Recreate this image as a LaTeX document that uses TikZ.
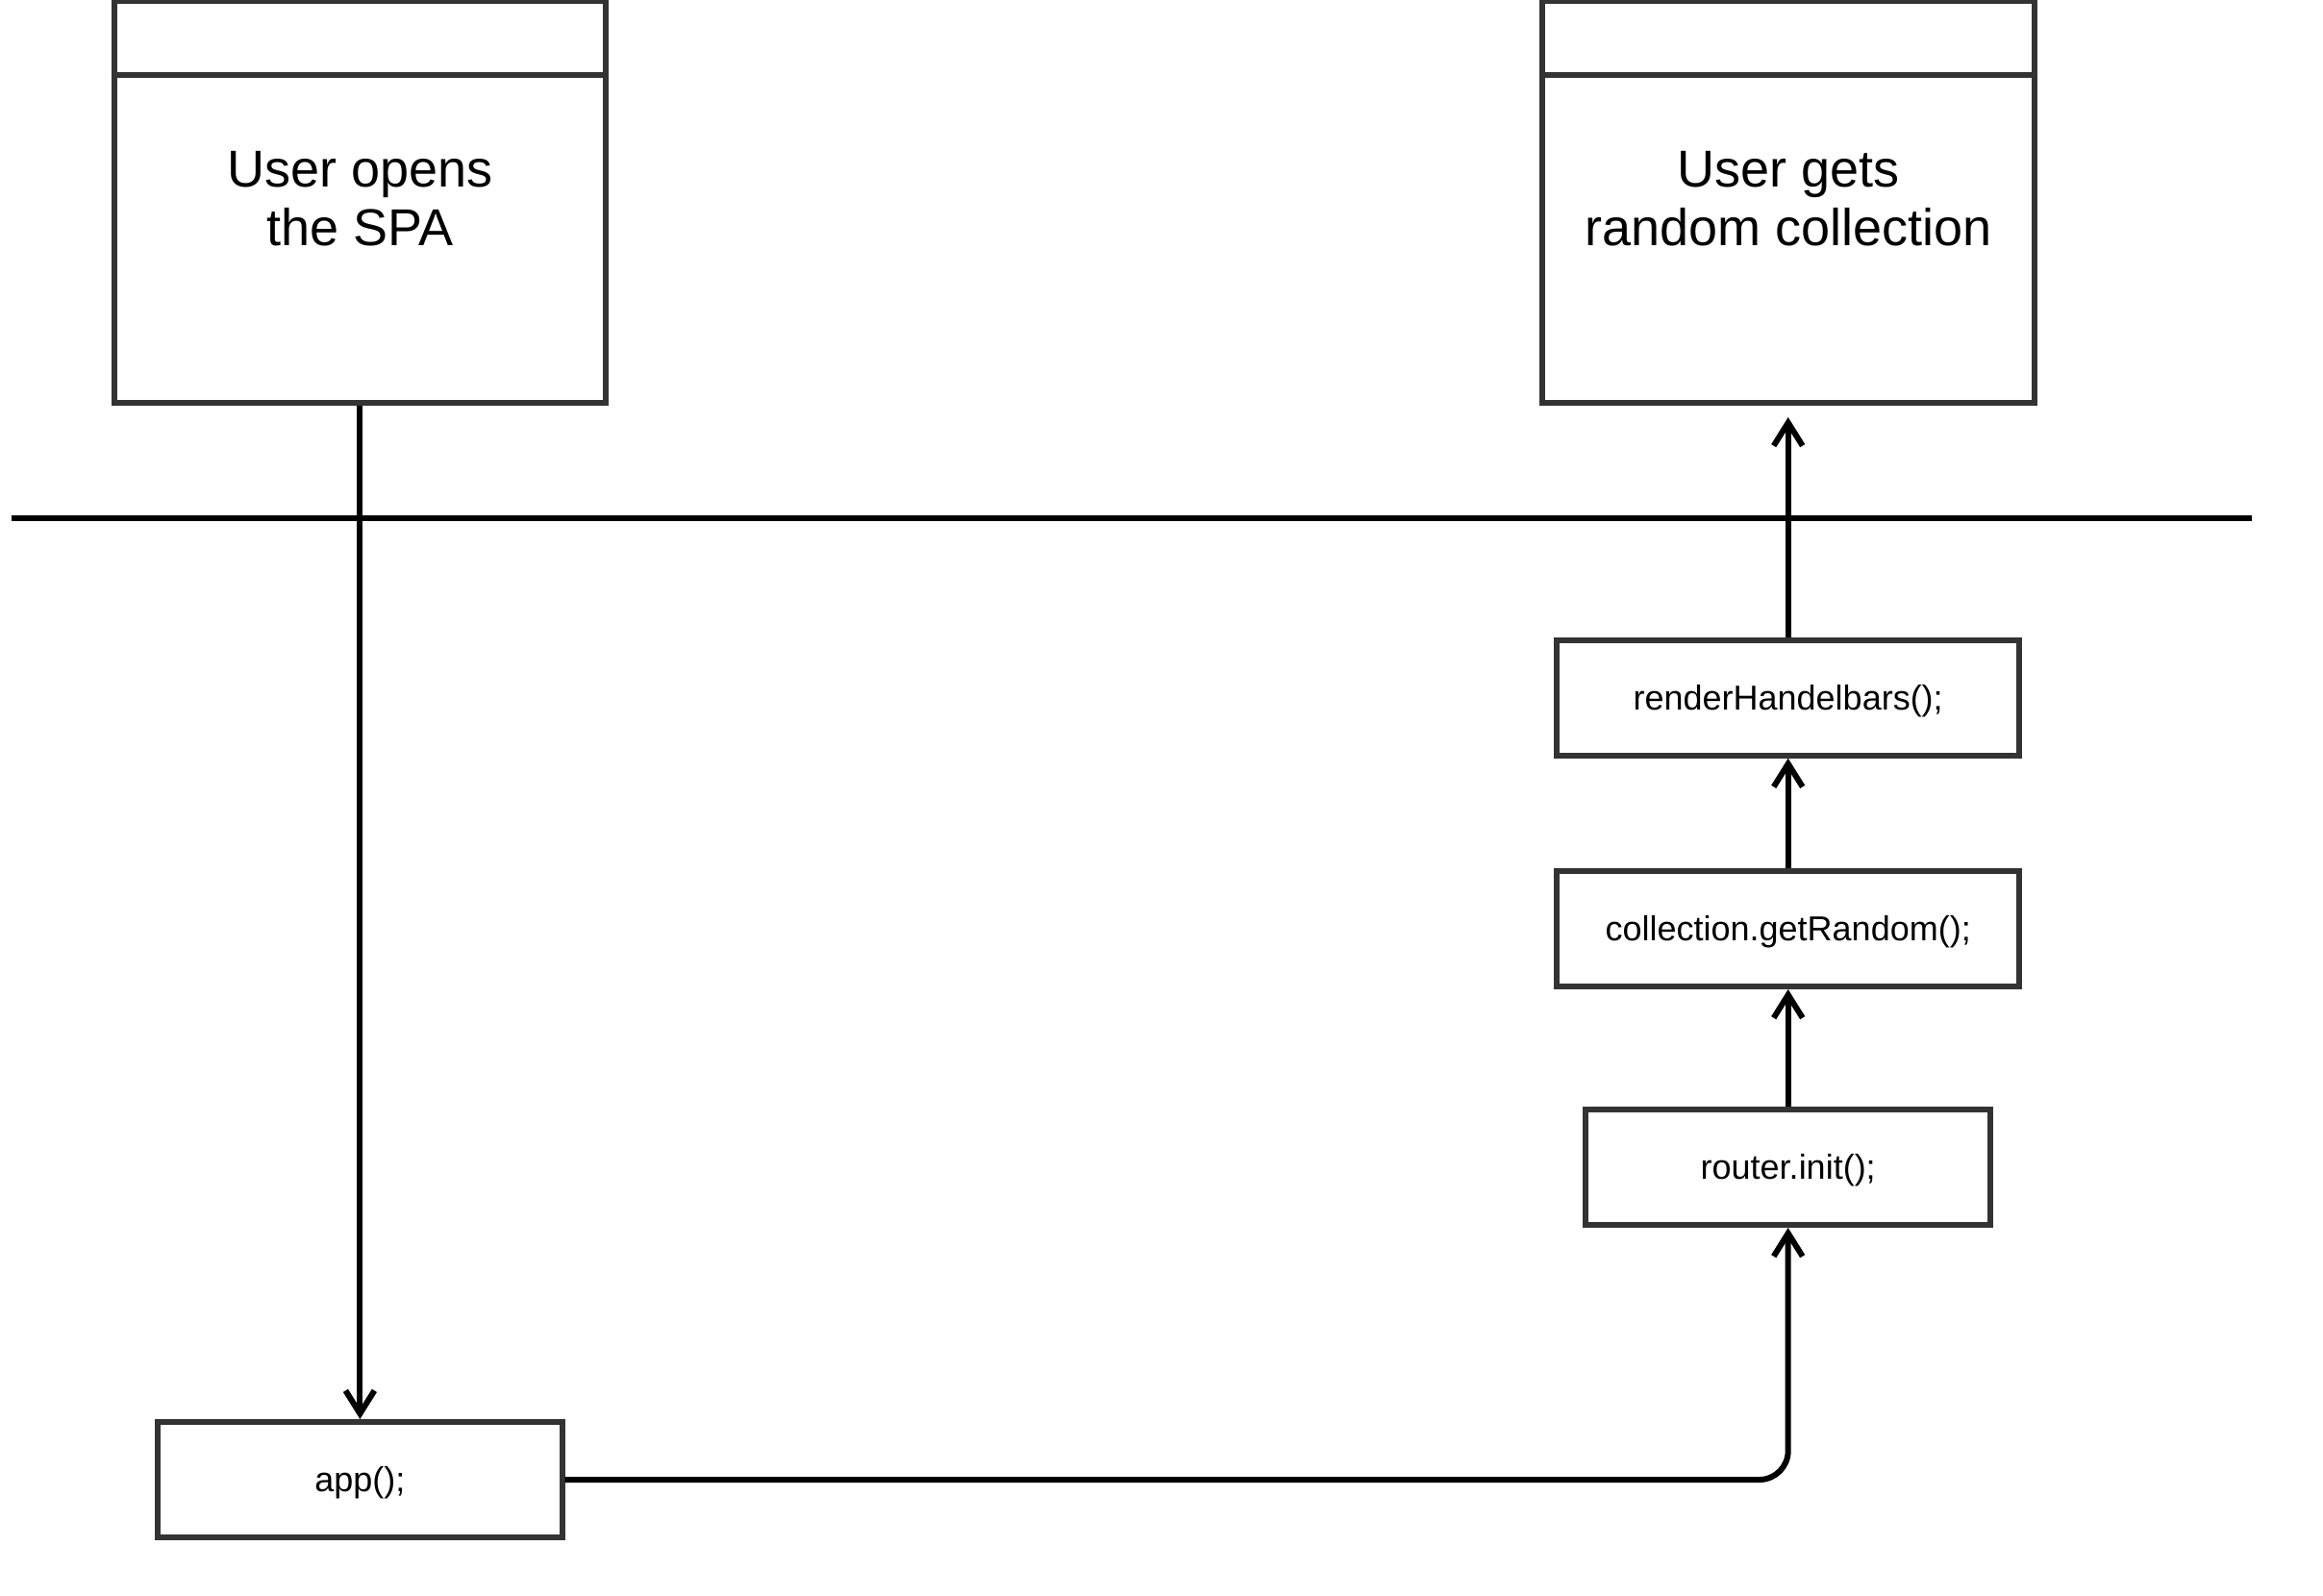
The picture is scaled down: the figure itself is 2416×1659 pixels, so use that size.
\documentclass[tikz,border=0pt]{standalone}
\usepackage{fontspec}
\setmainfont{Liberation Sans}
\usetikzlibrary{arrows.meta,calc}
\definecolor{boxgray}{HTML}{333333}
\tikzset{
  stagebox/.style={draw=boxgray, line width=6pt, fill=white, inner sep=0pt},
  callbox/.style={draw=boxgray, line width=6pt, fill=white, inner sep=0pt,
    minimum height=120pt, text height=33pt, text depth=8pt,
    font=\fontsize{36}{43}\selectfont},
  bigtext/.style={align=center, inner sep=0pt, font=\fontsize{54}{61}\selectfont},
  flow/.style={draw=black, line width=6pt,
    -{Straight Barb[length=24pt,width=30pt,line width=6pt]}},
  sepline/.style={draw=black, line width=6pt}
}
\begin{document}
\begin{tikzpicture}[x=1pt,y=-1pt]
  \useasboundingbox (0,0) rectangle (2416,1659);

  % two stage boxes with a header strip
  \node[stagebox, minimum width=511.6pt, minimum height=417.5pt] (spa) at (374.4,210.2) {};
  \node[stagebox, minimum width=511.6pt, minimum height=417.5pt] (gets) at (1859.7,210.2) {};
  \draw[draw=boxgray, line width=6pt] ([yshift=-80pt]spa.north west) -- ([yshift=-80pt]spa.north east);
  \draw[draw=boxgray, line width=6pt] ([yshift=-80pt]gets.north west) -- ([yshift=-80pt]gets.north east);
  \node[bigtext] (spatext) at (374.4,207) {User opens\\the SPA};
  \node[bigtext] (getstext) at (1859.7,207) {User gets\\random collection};

  % separator between user and application
  \coordinate (sepL) at (12,539);
  \coordinate (sepR) at (2342,539);
  \draw[sepline] (sepL) -- (sepR);

  % application calls
  \node[callbox, minimum width=481pt] (render) at (1859.7,725.7) {renderHandelbars();};
  \node[callbox, minimum width=481pt] (coll) at (1859.7,966) {collection.getRandom();};
  \node[callbox, minimum width=420.6pt] (router) at (1859.7,1214) {router.init();};
  \node[callbox, minimum width=420.6pt] (app) at (374.4,1539) {app();};

  % connectors
  \draw[flow] (spa.south) -- (app.north);
  \draw[flow, rounded corners=30pt] (app.east) -| (router.south);
  \draw[flow] (router.north) -- (coll.south);
  \draw[flow] (coll.north) -- (render.south);
  \draw[flow, shorten >=12pt] (render.north) -- (gets.south);
\end{tikzpicture}
\end{document}
